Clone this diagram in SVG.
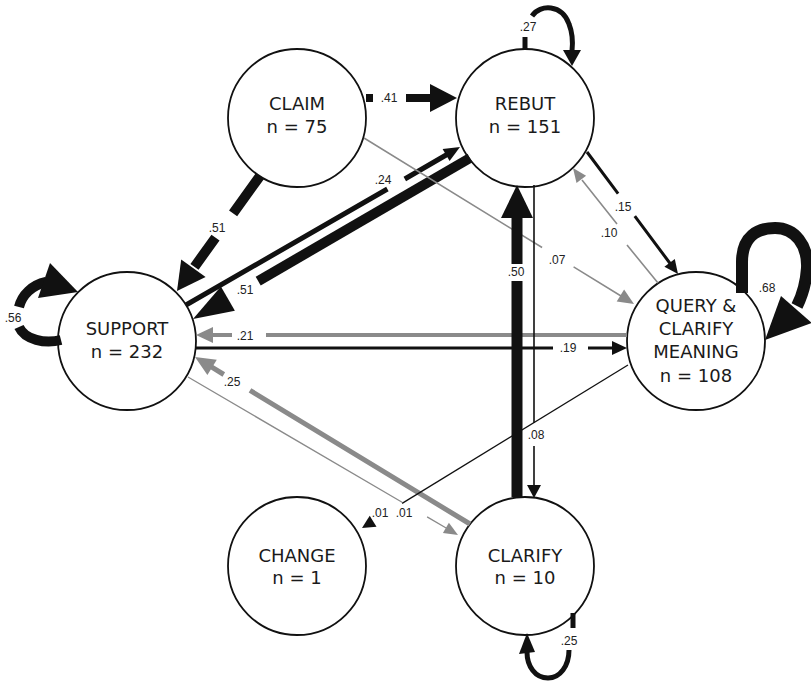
<svg xmlns="http://www.w3.org/2000/svg" width="811" height="682" viewBox="0 0 811 682">
  <style>
    .node circle { fill: #fff; stroke: #111; stroke-width: 1.8; }
    .node text { font-family: "DejaVu Sans", Verdana, sans-serif; font-size: 18px; fill: #1a1a1a; text-anchor: middle; }
    .lbl { font-family: "Liberation Sans", Arial, sans-serif; font-size: 12px; fill: #222; text-anchor: middle; }
    .k { stroke: #111; fill: none; }
    .g { stroke: #8a8a8a; fill: none; }
    .kh { fill: #111; stroke: none; }
    .gh { fill: #8a8a8a; stroke: none; }
  </style>
  <rect width="811" height="682" fill="#fff"/>

  <!-- nodes -->
  <g id="claim" class="node">
    <circle cx="297" cy="118" r="69"/>
    <text x="297" y="110">CLAIM</text>
    <text x="297" y="133">n = 75</text>
  </g>
  <g id="rebut" class="node">
    <circle cx="525" cy="118" r="69"/>
    <text x="525" y="110">REBUT</text>
    <text x="525" y="133">n = 151</text>
  </g>
  <g id="support" class="node">
    <circle cx="127" cy="341" r="69"/>
    <text x="127" y="335">SUPPORT</text>
    <text x="127" y="358">n = 232</text>
  </g>
  <g id="query" class="node">
    <circle cx="696" cy="341" r="69"/>
    <text x="696" y="312">QUERY &amp;</text>
    <text x="696" y="335">CLARIFY</text>
    <text x="696" y="358">MEANING</text>
    <text x="696" y="382">n = 108</text>
  </g>
  <g id="change" class="node">
    <circle cx="297" cy="566" r="69"/>
    <text x="297" y="562">CHANGE</text>
    <text x="297" y="584">n = 1</text>
  </g>
  <g id="clarify" class="node">
    <circle cx="525" cy="566" r="69"/>
    <text x="525" y="562">CLARIFY</text>
    <text x="525" y="584">n = 10</text>
  </g>

  <!-- transitions -->
  <g id="connectors">
    <!-- CLAIM -> REBUT .41 -->
    <path class="k" stroke-width="8" d="M366 98 H373 M406 98 H431"/>
    <polygon class="kh" points="430,84 457,98 430,112"/>
    <text class="lbl" x="389" y="102">.41</text>

    <!-- CLAIM -> SUPPORT .51 -->
    <path class="k" stroke-width="10" d="M260 176 L233.1 213.3 M215.5 237.6 L194.5 266.8"/>
    <polygon class="kh" points="205.6,277.1 177,291 181.2,259.5"/>
    <text class="lbl" x="217" y="232">.51</text>

    <!-- SUPPORT -> REBUT .24 -->
    <path class="k" stroke-width="5" d="M186 305 L387.4 189 M404.8 179 L447 154.5"/>
    <polygon class="kh" points="449.6,161.1 460,147 442.6,148.9"/>
    <text class="lbl" x="383" y="184">.24</text>

    <!-- REBUT -> SUPPORT .51 -->
    <path class="k" stroke-width="10" d="M470 158 L258.2 281.1"/>
    <polygon class="kh" points="220.9,286.6 193,319 234.9,310.8"/>
    <text class="lbl" x="245" y="294">.51</text>

    <!-- REBUT -> QUERY .15 -->
    <path class="k" stroke-width="3" d="M587 152 L618.1 193.7 M634.8 216.1 L670.5 264"/>
    <polygon class="kh" points="664.4,266.7 678,274 674.8,258.9"/>
    <text class="lbl" x="623" y="211">.15</text>

    <!-- QUERY -> REBUT .10 -->
    <path class="g" stroke-width="1.6" d="M658 283 L627 245 M617 224 L582 180"/>
    <polygon class="gh" points="586.1,175.7 573,168 576.5,182.9"/>
    <text class="lbl" x="609" y="237">.10</text>

    <!-- CLAIM -> QUERY .07 -->
    <path class="g" stroke-width="1.5" d="M364 138 L542.1 247.5 M573.6 266.9 L621 296"/>
    <polygon class="gh" points="616.7,301.6 634,304 624.1,289.6"/>
    <text class="lbl" x="557" y="264">.07</text>

    <!-- QUERY -> SUPPORT .21 -->
    <path class="g" stroke-width="4" d="M627 335 H266 M232 335 H211"/>
    <polygon class="gh" points="213,327 196,335 213,343"/>
    <text class="lbl" x="245" y="340">.21</text>

    <!-- SUPPORT -> QUERY .19 -->
    <path class="k" stroke-width="3" d="M195 348 H553 M588 348 H614"/>
    <polygon class="kh" points="612,341 627,348 612,355"/>
    <text class="lbl" x="568" y="352">.19</text>

    <!-- CLARIFY -> SUPPORT .25 -->
    <path class="g" stroke-width="5" d="M470 524 L250 390.4 M223.8 374.5 L211 366.7"/>
    <polygon class="gh" points="216.8,359.7 195,357 207.4,375.1"/>
    <text class="lbl" x="232" y="386">.25</text>

    <!-- SUPPORT -> CLARIFY .01 -->
    <path class="g" stroke-width="1.3" d="M188 377 L402.1 502.3 M427.1 516.9 L447 528.5"/>
    <polygon class="gh" points="442.9,533.1 458,535 448.9,522.7"/>
    <text class="lbl" x="404" y="517">.01</text>

    <!-- QUERY -> CHANGE .01 -->
    <path class="k" stroke-width="1.3" d="M628 365 L402.1 503.4"/>
    <polygon class="kh" points="369.7,515.7 362,528 376.5,526.7"/>
    <text class="lbl" x="380" y="517">.01</text>

    <!-- CLARIFY -> REBUT .50 -->
    <path class="k" stroke-width="11" d="M517 497 V281 M517 264 V217"/>
    <polygon class="kh" points="501,218 517,185 533,218"/>
    <text class="lbl" x="516" y="276">.50</text>

    <!-- REBUT -> CLARIFY .08 -->
    <path class="k" stroke-width="1.6" d="M534 185 V423 M534 446 V486"/>
    <polygon class="kh" points="527,485 534,498 541,485"/>
    <text class="lbl" x="536" y="439">.08</text>

    <!-- REBUT self-loop .27 -->
    <path class="k" stroke-width="5" d="M525 50 V37"/>
    <path class="k" stroke-width="5" d="M532 16 C540 4, 562 4, 569 24 C573 34, 573 42, 572 51"/>
    <polygon class="kh" points="563,50 581,50 572,66"/>
    <text class="lbl" x="528" y="31">.27</text>

    <!-- SUPPORT self-loop .56 -->
    <path class="k" stroke-width="10" d="M61 340 C45 344, 25 340, 19 327"/>
    <path class="k" stroke-width="10" d="M19 307 C22 295, 32 285, 46 282"/>
    <polygon class="kh" points="50,263 78,292 38,298"/>
    <text class="lbl" x="13" y="322">.56</text>

    <!-- QUERY self-loop .68 -->
    <path class="k" stroke-width="12" d="M742 293 V262 C742 236, 758 228, 775 228 C795 228, 808 245, 807 268 C806 284, 802 296, 797 306"/>
    <polygon class="kh" points="781,296 812,323 765,340"/>
    <text class="lbl" x="767" y="292">.68</text>

    <!-- CLARIFY self-loop .25 -->
    <path class="k" stroke-width="5" d="M573 613 V628"/>
    <path class="k" stroke-width="5" d="M569 650 C569 666, 560 678, 548 678 C535 678, 527 666, 527 652"/>
    <polygon class="kh" points="519,654 535,652 527,633"/>
    <text class="lbl" x="569" y="645">.25</text>
  </g>
</svg>
